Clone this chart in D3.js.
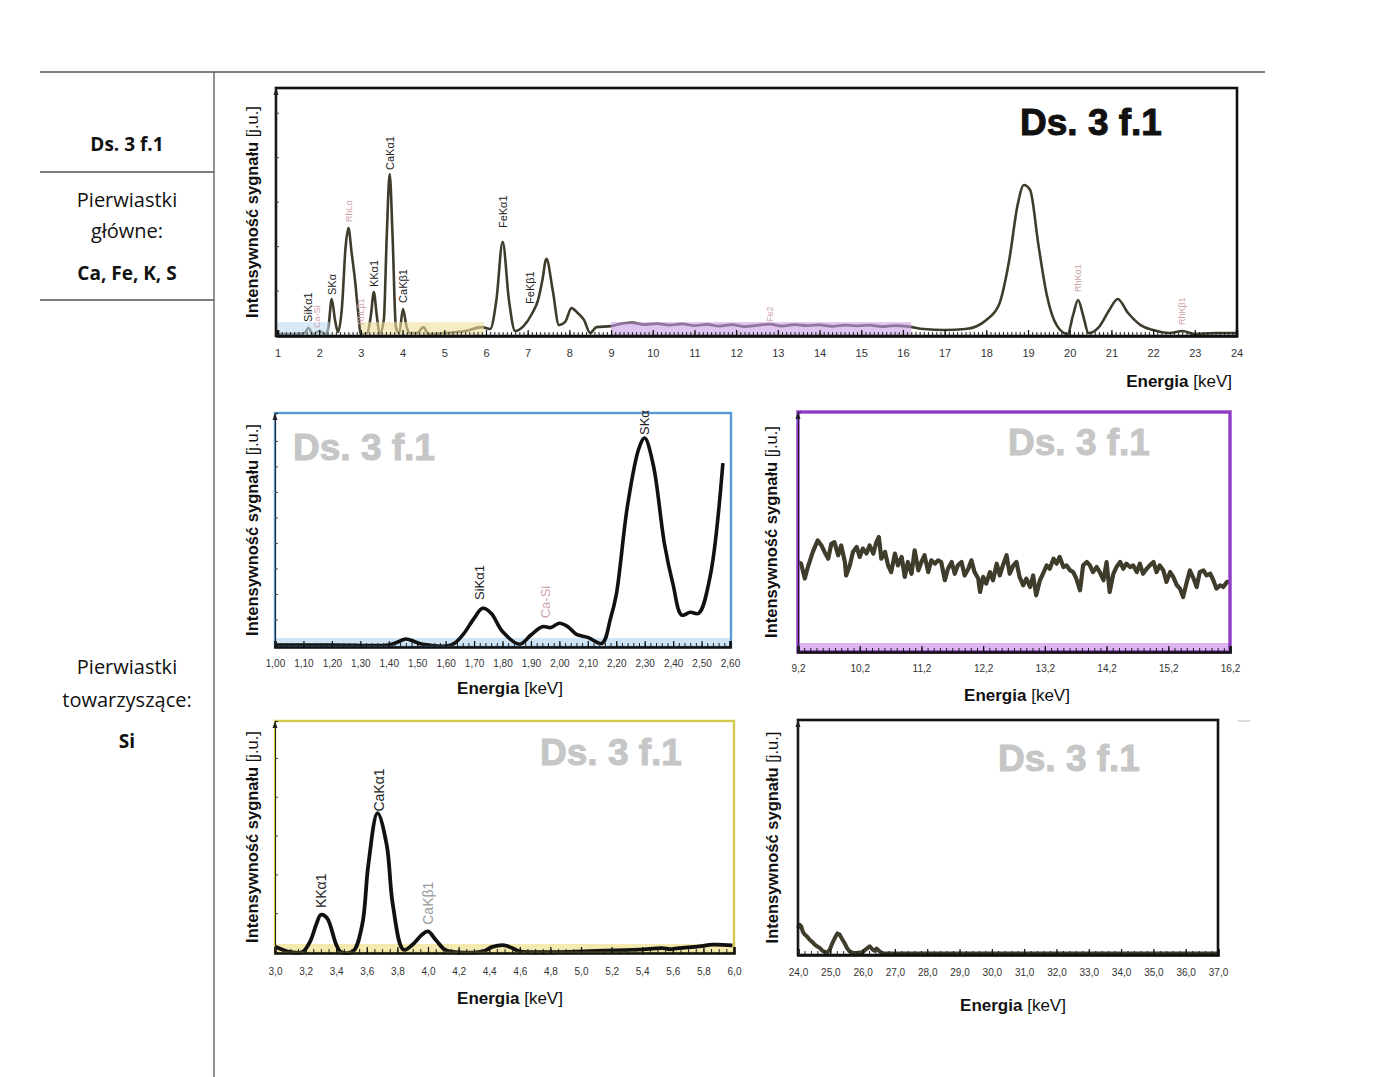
<!DOCTYPE html>
<html><head><meta charset="utf-8">
<script src="https://cdn.jsdelivr.net/npm/d3@7"></script>
<style>body{margin:0;background:#fff}svg{display:block}</style>
</head><body>
<svg id="c" width="1400" height="1077"></svg>
<script>
// ---------------- DATA ----------------
const sampleName = "Ds. 3 f.1";
const tableRows = ["Pierwiastki", "główne:", "Ca, Fe, K, S", "Pierwiastki", "towarzyszące:", "Si"];

// Main spectrum 1–24 keV: [energy keV, intensity a.u.]
const mainSpectrum = [[1.00,0.4],[1.30,0.4],[1.55,0.6],[1.65,0.8],[1.74,2.8],[1.85,0.4],[2.00,1.6],[2.15,0.4],[2.22,3],[2.30,14.6],[2.38,6],[2.45,1.2],[2.55,12.1],[2.63,35],[2.70,43.3],[2.78,33],[2.86,22],[2.93,10],[3.00,0.4],[3.15,0.8],[3.24,8],[3.31,17.4],[3.38,8],[3.45,0.4],[3.55,6.1],[3.62,40],[3.69,65.2],[3.76,40],[3.84,3],[3.92,0.8],[4.01,10.5],[4.10,3],[4.18,0.8],[4.35,0.8],[4.50,3.2],[4.62,0.4],[5.00,0.8],[5.50,1.6],[5.90,3.2],[6.10,2.4],[6.25,14.2],[6.40,37.7],[6.55,14.2],[6.70,1.6],[6.90,3.6],[7.10,8.5],[7.25,14.2],[7.35,22],[7.45,30.8],[7.60,18.2],[7.75,4.0],[7.90,5.3],[8.05,10.9],[8.20,8.9],[8.35,6.1],[8.50,0.8],[8.65,3.2],[9.00,3.6],[9.20,4.4],[9.50,5.0],[9.80,4.2],[10.10,4.6],[10.40,4.0],[10.70,4.5],[11.00,3.8],[11.30,4.3],[11.60,3.6],[11.90,4.2],[12.20,3.4],[12.50,3.9],[12.80,4.4],[13.10,3.6],[13.40,4.2],[13.70,3.8],[14.00,4.1],[14.30,3.5],[14.60,4.0],[14.90,3.7],[15.20,4.0],[15.50,3.4],[15.80,3.8],[16.10,3.5],[16.50,2.4],[17.00,2.0],[17.50,2.4],[18.00,6.1],[18.30,12.1],[18.55,30.4],[18.75,52.6],[18.90,60.7],[19.05,58.7],[19.25,36.4],[19.45,16.2],[19.70,3.6],[19.95,0.4],[20.08,8],[20.20,14.2],[20.32,8],[20.45,0.8],[20.70,3.2],[20.95,10.1],[21.15,14.6],[21.40,8.9],[21.70,4.0],[22.00,2.0],[22.40,0.8],[22.70,1.6],[23.00,0.4],[23.50,0.8],[24.00,0.8]];
const mainTicks = [1,2,3,4,5,6,7,8,9,10,11,12,13,14,15,16,17,18,19,20,21,22,23,24];
const mainRegions = [[1.0,2.25,"blue"],[3.0,5.95,"yellow"],[9.0,16.2,"purple"]];
// [energy, label base intensity, text, kind]
const mainLabels = [[1.74,5.3,"SiKα1","k"],[1.95,2.8,"Ca-Si","p"],[2.30,16.2,"SKα","k"],[2.70,45.7,"RhLα","p"],[3.00,4.0,"RhLβ1","p"],[3.31,19.4,"KKα1","k"],[3.69,66.8,"CaKα1","k"],[4.01,13.0,"CaKβ1","k"],[6.40,43.3,"FeKα1","k"],[7.06,12.6,"FeKβ1","k"],[12.80,5.3,"Fe2","p"],[20.20,17.4,"RhKα1","p"],[22.70,4.0,"RhKβ1","p"]];

// Zoom 1.00–2.60 keV
const siSpectrum = [[1.00,0],[1.20,0],[1.40,0],[1.43,1.2],[1.46,2.6],[1.49,1.5],[1.52,0.3],[1.62,0],[1.66,4.3],[1.70,11.5],[1.73,15.8],[1.76,13.7],[1.80,5.8],[1.86,0.3],[1.90,4.3],[1.94,7.9],[1.97,7.5],[2.00,9.4],[2.03,7.9],[2.06,4.6],[2.10,3.3],[2.15,0.7],[2.18,11.5],[2.20,21.6],[2.24,60.4],[2.28,84.9],[2.30,89.2],[2.33,77.7],[2.37,43.2],[2.40,25.9],[2.43,12.9],[2.46,14.1],[2.49,13.7],[2.53,29.5],[2.575,78.4]];
const siTicks = [1.0,1.1,1.2,1.3,1.4,1.5,1.6,1.7,1.8,1.9,2.0,2.1,2.2,2.3,2.4,2.5,2.6];
const siLabels = [[1.72,19.4,"SiKα1","k"],[1.95,11.5,"Ca-Si","p"],[2.30,90.5,"SKα","k"]];

// Zoom 9.2–16.2 keV (noise)
const feSpectrum = [[9.20,37.5],[9.25,36.8],[9.31,30.6],[9.36,35.4],[9.44,41.7],[9.52,46.5],[9.58,44.4],[9.63,41.7],[9.69,38.9],[9.74,45.1],[9.79,45.8],[9.85,40.3],[9.90,44.4],[9.96,37.5],[9.98,31.9],[10.04,36.1],[10.09,41.7],[10.15,43.8],[10.20,39.6],[10.25,43.1],[10.31,41.0],[10.36,44.4],[10.42,41.0],[10.47,45.8],[10.51,47.9],[10.55,38.9],[10.61,41.7],[10.66,36.1],[10.71,33.3],[10.77,41.0],[10.82,36.1],[10.88,39.6],[10.93,31.3],[10.98,37.5],[11.04,32.6],[11.09,42.4],[11.15,34.0],[11.20,37.5],[11.25,40.3],[11.31,33.3],[11.36,38.2],[11.42,36.8],[11.47,38.2],[11.52,37.5],[11.58,29.9],[11.63,34.7],[11.69,37.5],[11.74,32.6],[11.79,36.1],[11.85,37.5],[11.90,31.9],[11.96,34.7],[12.01,38.2],[12.06,33.3],[12.12,30.6],[12.15,25.0],[12.20,31.3],[12.25,28.5],[12.31,33.3],[12.36,29.9],[12.42,36.8],[12.47,31.9],[12.52,36.1],[12.58,40.3],[12.63,32.6],[12.69,36.1],[12.74,37.5],[12.79,31.3],[12.85,27.8],[12.90,30.6],[12.96,27.1],[13.01,31.9],[13.06,23.6],[13.12,29.9],[13.17,32.6],[13.23,36.1],[13.28,34.7],[13.34,38.9],[13.39,36.8],[13.44,39.6],[13.50,35.4],[13.55,36.1],[13.61,34.0],[13.66,33.3],[13.71,30.6],[13.77,25.7],[13.82,36.1],[13.88,37.5],[13.93,36.1],[13.98,33.3],[14.04,35.4],[14.09,33.3],[14.15,29.9],[14.20,37.5],[14.25,25.0],[14.31,32.6],[14.36,35.4],[14.42,37.5],[14.47,34.7],[14.52,36.8],[14.58,35.4],[14.63,36.1],[14.69,33.3],[14.74,36.8],[14.79,32.6],[14.85,34.7],[14.90,36.1],[14.96,37.5],[15.01,33.3],[15.06,36.1],[15.12,34.0],[15.17,29.2],[15.23,33.3],[15.28,31.3],[15.34,27.8],[15.39,26.4],[15.44,22.9],[15.50,29.2],[15.55,34.0],[15.61,30.6],[15.66,27.1],[15.71,33.3],[15.77,34.0],[15.82,31.9],[15.88,32.6],[15.93,29.9],[15.98,26.4],[16.04,27.8],[16.09,27.1],[16.15,29.2],[16.20,29.2]];
const feTicks = [9.2,10.2,11.2,12.2,13.2,14.2,15.2,16.2];

// Zoom 3.0–6.0 keV
const caSpectrum = [[3.00,2.4],[3.05,1.0],[3.10,0],[3.18,0],[3.23,4.6],[3.27,12],[3.30,16.1],[3.34,14.7],[3.40,3.2],[3.43,0],[3.51,0.3],[3.57,11.8],[3.61,37.8],[3.67,60.1],[3.73,46.4],[3.77,20.5],[3.84,1.0],[3.90,3.2],[3.96,7.5],[4.00,8.9],[4.05,5.3],[4.11,1.0],[4.16,0],[4.36,0.3],[4.42,2.2],[4.50,2.9],[4.55,1.7],[4.60,0.3],[5.16,0.6],[5.38,1.0],[5.53,1.7],[5.58,1.2],[5.64,1.7],[5.77,2.4],[5.86,3.2],[5.99,2.9]];
const caTicks = [3.0,3.2,3.4,3.6,3.8,4.0,4.2,4.4,4.6,4.8,5.0,5.2,5.4,5.6,5.8,6.0];
const caLabels = [[3.30,19.0,"KKα1","k"],[3.68,60.8,"CaKα1","k"],[4.00,11.8,"CaKβ1","g"]];

// Zoom 24–37 keV
const rhSpectrum = [[24.00,11.1],[24.05,12.5],[24.10,11.8],[24.15,9.5],[24.21,8.3],[24.28,7.5],[24.36,6.1],[24.44,5.2],[24.52,4.0],[24.60,3.2],[24.67,2.6],[24.75,1.5],[24.83,0.9],[24.90,0.6],[24.98,1.8],[25.06,4.5],[25.14,6.8],[25.22,8.8],[25.29,8.3],[25.36,6.5],[25.44,4.7],[25.52,2.5],[25.60,1.1],[25.70,0.5],[25.81,0.4],[25.92,0.6],[26.01,0.9],[26.12,2.2],[26.22,3.3],[26.30,2.0],[26.37,1.4],[26.43,2.3],[26.48,1.8],[26.55,0.8],[26.63,0.3],[27.00,0.2],[30.00,0.2],[37.00,0.2]];
const rhTicks = [24,25,26,27,28,29,30,31,32,33,34,35,36,37];

// ---------------- STYLE ----------------
const C = {
  blue:"#5b9bd5", blueBand:"#cfe5f5",
  yellow:"#d6c84e", yellowBand:"#f4eab0",
  purple:"#8e3cc6", purpleBand:"#dcb4ef",
  olive:"#3f3c2c", pink:"#cfa4ac", gray:"#9a9a9a", wm:"#c6c6c6"
};
const regionFill = {blue:"#bfdcf0", yellow:"#efdf9c", purple:"#c99be6"};
const sans = "Liberation Sans, Arial, sans-serif";
const narrow = "Liberation Sans Narrow, Liberation Sans, Arial, sans-serif";

const svg = d3.select("#c");

// ---------------- LEFT TABLE ----------------
const tbl = svg.append("g").attr("stroke","#555").attr("stroke-width",1.3);
tbl.append("line").attr("x1",40).attr("x2",1265).attr("y1",72).attr("y2",72);
tbl.append("line").attr("x1",214).attr("x2",214).attr("y1",72).attr("y2",1077);
tbl.append("line").attr("x1",40).attr("x2",214).attr("y1",172).attr("y2",172);
tbl.append("line").attr("x1",40).attr("x2",214).attr("y1",300).attr("y2",300);
const tf = "Open Sans, Lato, sans-serif";
const tText = (t,y,bold)=>svg.append("text").attr("x",127).attr("y",y).attr("text-anchor","middle")
  .attr("font-family",tf).attr("font-size",bold?19:20).attr("font-weight",bold?"bold":"normal").attr("fill","#111").text(t);
tText(sampleName,151,true);
tText(tableRows[0],207,false);
tText(tableRows[1],238,false);
tText(tableRows[2],280,true);
tText(tableRows[3],674,false);
tText(tableRows[4],707,false);
tText(tableRows[5],748,true);

// ---------------- PANEL FUNCTION ----------------
function panel(p){
  const g = svg.append("g");
  const x = d3.scaleLinear().domain(p.domain).range([p.x0,p.x1]);
  const y = d3.scaleLinear().domain([0,100]).range([p.yb,p.y0]);
  const line = d3.line().x(d=>x(d[0])).y(d=>y(d[1])).curve(p.curve||d3.curveMonotoneX);

  if(p.band){
    g.append("rect").attr("x",p.x0).attr("y",p.y1-9).attr("width",p.x1-p.x0).attr("height",9).attr("fill",p.band);
  }
  g.append("path").datum(p.data).attr("d",line).attr("fill","none")
    .attr("stroke",p.lineColor).attr("stroke-width",p.lineWidth).attr("stroke-linejoin","round");
  (p.regions||[]).forEach(r=>{
    g.append("rect").attr("x",x(r[0])).attr("width",x(r[1])-x(r[0]))
      .attr("y",y(5.2)).attr("height",p.y1-y(5.2)).attr("fill",regionFill[r[2]]).attr("opacity",0.6);
  });
  g.append("rect").attr("x",p.fx0).attr("y",p.y0).attr("width",p.fx1-p.fx0).attr("height",p.y1-p.y0)
    .attr("fill","none").attr("stroke",p.frame).attr("stroke-width",p.frameWidth);
  const minor = g.append("g").attr("transform",`translate(0,${p.y1})`)
    .call(d3.axisBottom(x).ticks(p.minorCount).tickSize(-4).tickFormat(""));
  minor.select(".domain").remove();
  minor.selectAll("line").attr("stroke","#222").attr("stroke-width",1);
  const ax = g.append("g").attr("transform",`translate(0,${p.y1})`)
    .call(d3.axisBottom(x).tickValues(p.ticks).tickSize(-6).tickPadding(p.pad).tickFormat(p.fmt));
  ax.select(".domain").attr("stroke","#111").attr("stroke-width",2.6);
  ax.selectAll(".tick line").attr("stroke","#111").attr("stroke-width",1.2);
  ax.selectAll("text").attr("font-family",narrow).attr("font-size",p.tickFont).attr("fill","#333");
  const yA = g.append("g").attr("transform",`translate(${p.fx0},0)`)
    .call(d3.axisLeft(y).tickValues(p.yTicks||[]).tickSize(-3).tickFormat(""));
  yA.select(".domain").attr("stroke","#222").attr("stroke-width",1);
  yA.selectAll("line").attr("stroke","#444");
  g.append("path").attr("d",`M${p.fx0-2.5},${p.y0+7} L${p.fx0},${p.y0} L${p.fx0+2.5},${p.y0+7} Z`).attr("fill","#222");
  const yl = g.append("text").attr("transform",`translate(${p.ylx},${(p.y0+p.y1)/2}) rotate(-90)`)
    .attr("text-anchor","middle").attr("font-family",sans).attr("font-size",p.ylFont).attr("fill","#111");
  yl.append("tspan").attr("font-weight","bold").text("Intensywność sygnału ");
  yl.append("tspan").text("[j.u.]");
  const xt = g.append("text").attr("x",p.xtx).attr("y",p.xty).attr("text-anchor",p.xtAnchor||"middle")
    .attr("font-family",sans).attr("font-size",p.xtFont).attr("fill","#111");
  xt.append("tspan").attr("font-weight","bold").text("Energia ");
  xt.append("tspan").text("[keV]");
  const lc = {k:"#222",p:C.pink,g:C.gray};
  (p.labels||[]).forEach(l=>{
    const fs = l[3]==="p" && p.smallPink ? p.labelFont-2 : p.labelFont;
    g.append("text").attr("transform",`translate(${x(l[0])},${y(l[1])}) rotate(-90)`)
      .attr("dy","0.35em").attr("text-anchor","start").attr("font-family",sans)
      .attr("font-size",fs).attr("fill",lc[l[3]]).text(l[2]);
  });
  g.append("text").attr("x",p.wmx).attr("y",p.wmy).attr("text-anchor","middle")
    .attr("font-family",sans).attr("font-weight","bold").attr("font-size",p.wmFont)
    .attr("fill",p.wmColor).attr("stroke",p.wmColor).attr("stroke-width",1).text(sampleName);
  return g;
}

// ---------------- PANELS ----------------
panel({domain:[1,24], x0:277.5, x1:1236.5, fx0:276, fx1:1237, y0:88, y1:336, yb:335,
  data:mainSpectrum, lineColor:C.olive, lineWidth:2.6, frame:"#111", frameWidth:2.6,
  regions:mainRegions, minorCount:230, ticks:mainTicks, pad:13, fmt:d3.format("d"), tickFont:11,
  yTicks:[18,36,54,72,90], ylx:258, ylFont:16.5, xtx:1232, xty:387, xtAnchor:"end", xtFont:17,
  labels:mainLabels, labelFont:11, smallPink:true, wmx:1091, wmy:135, wmFont:37, wmColor:"#111"});

panel({domain:[1.0,2.6], x0:275, x1:730, fx0:275, fx1:731, y0:413, y1:647, yb:645,
  data:siSpectrum, lineColor:"#111", lineWidth:3.6, frame:C.blue, frameWidth:2.4, band:C.blueBand,
  curve:d3.curveCatmullRom,
  minorCount:80, ticks:siTicks, pad:13, fmt:d=>d3.format(".2f")(d).replace(".",","), tickFont:10,
  yTicks:[11,22,33,44,55,66,77,88], ylx:258, ylFont:16.5, xtx:510, xty:694, xtFont:17,
  labels:siLabels, labelFont:13, wmx:364, wmy:460, wmFont:37, wmColor:C.wm});

panel({domain:[9.2,16.2], x0:798, x1:1230, fx0:798, fx1:1230, y0:412, y1:652, yb:652,
  data:feSpectrum, lineColor:C.olive, lineWidth:4.2, frame:C.purple, frameWidth:3.4, band:C.purpleBand,
  curve:d3.curveLinear,
  minorCount:70, ticks:feTicks, pad:13, fmt:d=>d3.format(".1f")(d).replace(".",","), tickFont:10,
  yTicks:[], ylx:777, ylFont:16.5, xtx:1017, xty:701, xtFont:17,
  labels:[], labelFont:13, wmx:1079, wmy:455, wmFont:37, wmColor:C.wm});

panel({domain:[3.0,6.0], x0:275, x1:734, fx0:275, fx1:734, y0:721, y1:953, yb:952,
  data:caSpectrum, lineColor:"#111", lineWidth:3.8, frame:C.yellow, frameWidth:2.4, band:C.yellowBand,
  curve:d3.curveCatmullRom,
  minorCount:60, ticks:caTicks, pad:15, fmt:d=>d3.format(".1f")(d).replace(".",","), tickFont:10,
  yTicks:[16.8,33.6,50.4,67.2,84], ylx:258, ylFont:16.5, xtx:510, xty:1004, xtFont:17,
  labels:caLabels, labelFont:14, wmx:611, wmy:765, wmFont:37, wmColor:C.wm});

panel({domain:[24,37], x0:798, x1:1218, fx0:798, fx1:1218, y0:720, y1:955, yb:954,
  data:rhSpectrum, lineColor:C.olive, lineWidth:4, frame:"#111", frameWidth:2.6,
  curve:d3.curveLinear,
  minorCount:65, ticks:rhTicks, pad:14, fmt:d=>d3.format(".1f")(d).replace(".",","), tickFont:10,
  yTicks:[], ylx:778, ylFont:16.5, xtx:1013, xty:1011, xtFont:17,
  labels:[], labelFont:13, wmx:1069, wmy:771, wmFont:37, wmColor:C.wm});

svg.append("line").attr("x1",1238).attr("x2",1250).attr("y1",721).attr("y2",721).attr("stroke","#cfcfcf").attr("stroke-width",1.5);
</script>
</body></html>
